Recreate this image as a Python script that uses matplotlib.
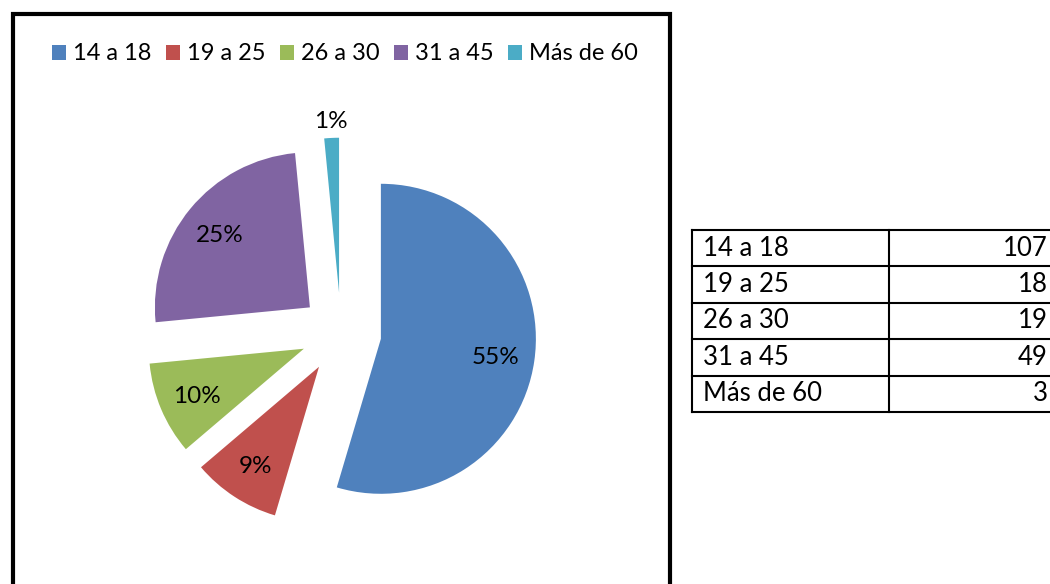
import matplotlib
matplotlib.use("Agg")
import matplotlib.pyplot as plt
from matplotlib.patches import Rectangle
import numpy as np

plt.rcParams['font.family'] = ['Lato', 'DejaVu Sans']

# --- datos ---
categorias = ['14 a 18', '19 a 25', '26 a 30', '31 a 45', 'Más de 60']
cantidades = [107, 18, 19, 49, 3]
etiquetas_pct = ['55%', '9%', '10%', '25%', '1%']
colores = ['#4F81BD', '#C0504D', '#9BBB59', '#8064A2', '#4BACC6']

W, H = 1050, 584
fig = plt.figure(figsize=(W / 100, H / 100), dpi=100)
fig.patch.set_facecolor('white')

# --- pastel ---
# centro del pastel en px y radio en px
cx, cy, r_px = 341, 333, 155
left, right, top, bottom = 20, 660, 90, 570
ax = fig.add_axes([left / W, 1 - bottom / H, (right - left) / W, (bottom - top) / H])
wedges, _ = ax.pie(cantidades, colors=colores, startangle=90, counterclock=False,
                   explode=[0.26] * len(cantidades), radius=1,
                   wedgeprops=dict(linewidth=0))
ax.set_xlim((left - cx) / r_px, (right - cx) / r_px)
ax.set_ylim((cy - bottom) / r_px, (cy - top) / r_px)
ax.set_aspect('auto')
ax.axis('off')

for i, (w, txt) in enumerate(zip(wedges, etiquetas_pct)):
    ang = np.deg2rad((w.theta1 + w.theta2) / 2)
    d = 1.12 if i == len(wedges) - 1 else 0.75
    x = w.center[0] + d * np.cos(ang)
    y = w.center[1] + d * np.sin(ang)
    ax.text(x, y, txt, ha='center', va='center_baseline', fontsize=17.5, color='black')

# --- leyenda ---
fig.legend(wedges, categorias, loc='center', bbox_to_anchor=(345 / W, 1 - 54 / H),
           ncol=5, frameon=False, fontsize=17, handlelength=0.6, handleheight=0.6,
           handletextpad=0.3, columnspacing=0.6, borderpad=0)

# --- marco del grafico ---
fig.add_artist(Rectangle((13 / W, -0.1), (670 - 13) / W, 1 - 14 / H + 0.1,
                         transform=fig.transFigure, fill=False, lw=3, ec='black'))

# --- tabla ---
tl, tr, tt, tb = 692, 1056, 230, 412
tax = fig.add_axes([tl / W, 1 - tb / H, (tr - tl) / W, (tb - tt) / H])
n = len(categorias)
tax.set_xlim(0, 1)
tax.set_ylim(0, n)
tax.axis('off')
xdiv = (889 - tl) / (tr - tl)
for k in range(n + 1):
    tax.plot([0, 1], [k, k], color='black', lw=1.5, clip_on=False, solid_capstyle='projecting')
for xv in [0, xdiv, 1]:
    tax.plot([xv, xv], [0, n], color='black', lw=1.5, clip_on=False, solid_capstyle='projecting')
for i, (c, v) in enumerate(zip(categorias, cantidades)):
    yc = n - i - 0.5
    tax.text(11 / (tr - tl), yc, c, ha='left', va='center', fontsize=18.5)
    tax.text(1 - 8 / (tr - tl), yc, str(v), ha='right', va='center', fontsize=18.5)

fig.savefig('out.png', dpi=100, facecolor='white')
